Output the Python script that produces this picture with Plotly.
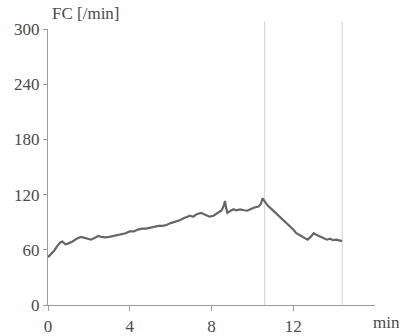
import plotly.graph_objects as go

# Heart rate (FC) recording over time, in minutes
time_min = [0.0, 0.15, 0.3, 0.45, 0.6, 0.7, 0.85, 1.0, 1.2, 1.4, 1.6, 1.8, 2.0, 2.1,
            2.3, 2.45, 2.6, 2.8, 3.0, 3.2, 3.4, 3.6, 3.8, 4.0, 4.2, 4.4, 4.6, 4.8,
            5.0, 5.2, 5.4, 5.6, 5.8, 6.0, 6.2, 6.45, 6.6, 6.8, 6.95, 7.1, 7.3, 7.5,
            7.7, 7.9, 8.1, 8.3, 8.5, 8.6, 8.66, 8.72, 8.78, 8.9, 9.07, 9.2, 9.4,
            9.6, 9.75, 9.9, 10.1, 10.3, 10.42, 10.5, 10.6, 10.75, 10.9, 11.1, 11.3,
            11.5, 11.7, 11.85, 12.0, 12.15, 12.3, 12.5, 12.7, 12.85, 13.0, 13.15,
            13.35, 13.5, 13.65, 13.8, 13.95, 14.1, 14.25, 14.39]
heart_rate = [52, 55, 59, 64, 68, 69, 66, 67, 69, 72, 74, 73, 72, 71,
              73, 75, 74, 73.5, 74, 75, 76, 77, 78, 80, 80, 82, 83, 83,
              84, 85, 86, 86, 87, 89, 90, 92, 94, 96, 97, 96, 99, 100,
              98, 96, 97, 100, 103, 108, 113, 105, 100, 102, 104, 103, 104,
              103, 102.5, 104, 106, 107, 110, 116, 113, 108, 105, 101, 97,
              93, 89, 85, 82, 78, 76, 73, 71, 74, 78, 76,
              74, 72, 71, 72, 70.5, 71, 70, 69.5]

# Event markers (end of effort, end of recovery)
event_times = [10.6, 14.4]

x_ticks = [0, 4, 8, 12]
y_ticks = [0, 60, 120, 180, 240, 300]

font = dict(family="Liberation Serif", size=17, color="#4a4a4a")
axis_color = "#9a9a9a"

fig = go.Figure()
fig.add_trace(go.Scatter(x=time_min, y=heart_rate, mode="lines",
                         line=dict(color="#666666", width=2.2), hoverinfo="skip"))

for t in event_times:
    fig.add_shape(type="line", xref="x", yref="paper", x0=t, x1=t, y0=0, y1=1.026,
                  line=dict(color="#d8d8d8", width=1.2), layer="below")

fig.update_layout(
    width=403, height=336,
    margin=dict(l=48, r=28, t=29, b=31),
    paper_bgcolor="white", plot_bgcolor="white",
    showlegend=False, font=font,
    xaxis=dict(range=[0, 16], tickvals=x_ticks, ticktext=[str(v) for v in x_ticks],
               showgrid=False, zeroline=False, showline=True, linecolor=axis_color,
               linewidth=1.3, ticks="outside", ticklen=5, tickcolor=axis_color,
               tickfont=font, automargin=False),
    yaxis=dict(range=[0, 300], tickvals=y_ticks, ticktext=[str(v) for v in y_ticks],
               showgrid=False, zeroline=False, showline=True, linecolor=axis_color,
               linewidth=1.3, ticks="outside", ticklen=4, tickcolor=axis_color,
               tickfont=font, automargin=False),
    annotations=[
        dict(text="FC [/min]", xref="paper", yref="paper", x=0.006, y=1.0,
             xanchor="left", yanchor="middle", yshift=16, showarrow=False, font=font),
        dict(text="min", xref="paper", yref="paper", x=1.0, y=0, xanchor="left",
             yanchor="middle", xshift=-4, yshift=-17, showarrow=False, font=font),
    ],
)

fig.write_html("out.html")
